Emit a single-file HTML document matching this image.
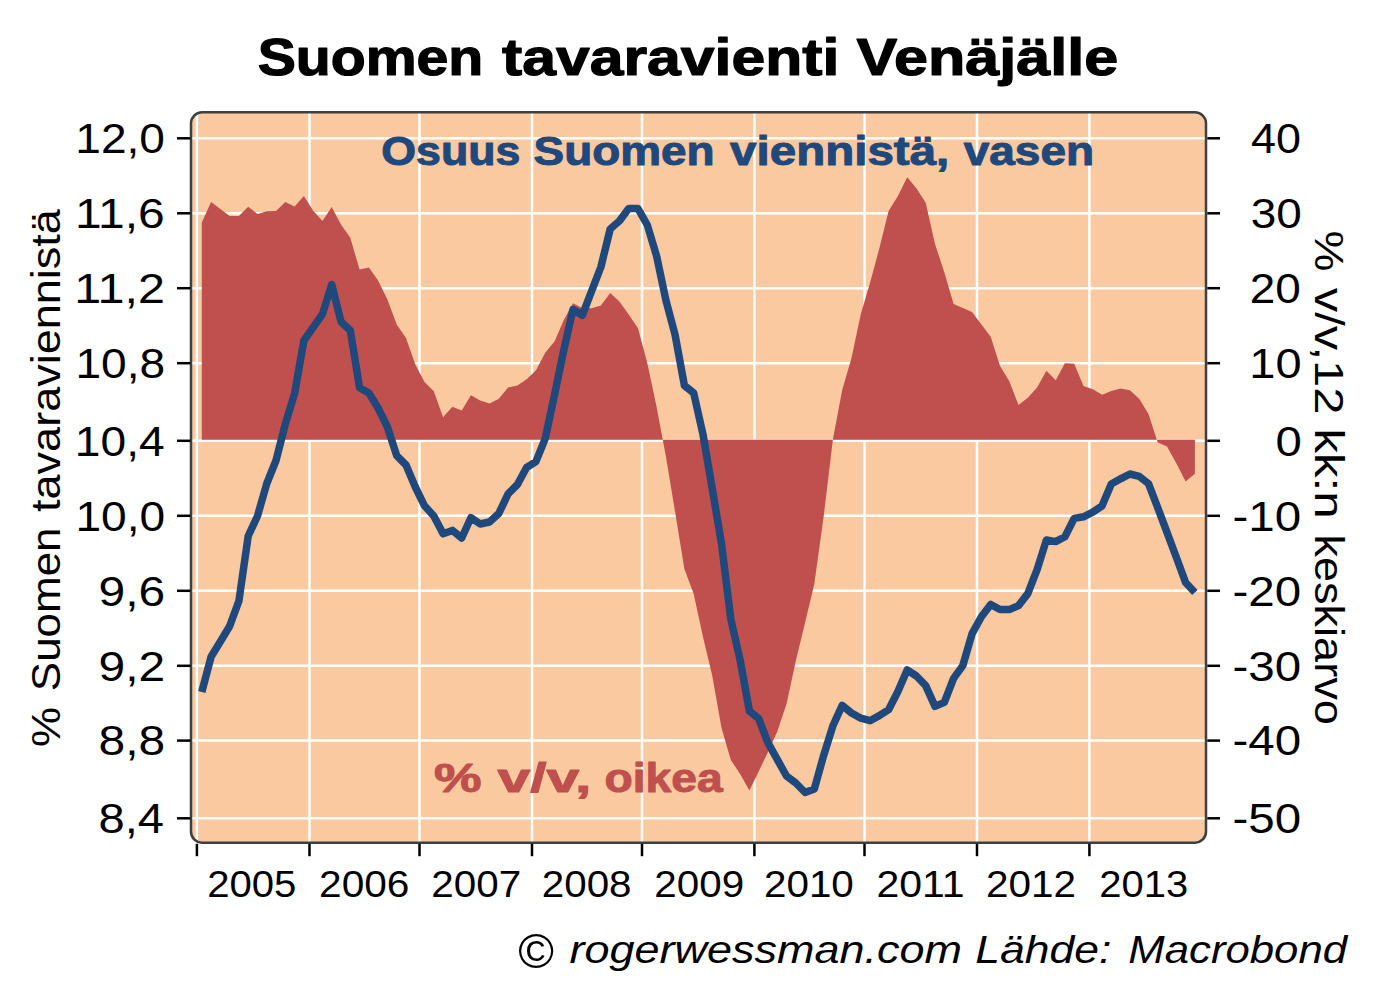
<!DOCTYPE html>
<html><head><meta charset="utf-8"><style>
html,body{margin:0;padding:0;background:#fff;}
svg{display:block;}
text{font-family:"Liberation Sans", sans-serif;}
</style></head><body>
<svg width="1375" height="1000" viewBox="0 0 1375 1000">
<rect x="0" y="0" width="1375" height="1000" fill="#ffffff"/>
<defs><clipPath id="ax"><rect x="191" y="112.3" width="1015" height="730.4" rx="11" ry="11"/></clipPath></defs>
<rect x="191" y="112.3" width="1015" height="730.4" rx="11" ry="11" fill="#FAC9A0"/>
<g clip-path="url(#ax)">
<line x1="185" x2="1215" y1="138.3" y2="138.3" stroke="#fff" stroke-width="2.5"/>
<line x1="185" x2="1215" y1="213.3" y2="213.3" stroke="#fff" stroke-width="2.5"/>
<line x1="185" x2="1215" y1="288.2" y2="288.2" stroke="#fff" stroke-width="2.5"/>
<line x1="185" x2="1215" y1="363.2" y2="363.2" stroke="#fff" stroke-width="2.5"/>
<line x1="185" x2="1215" y1="440.8" y2="440.8" stroke="#fff" stroke-width="2.5"/>
<line x1="185" x2="1215" y1="515.8" y2="515.8" stroke="#fff" stroke-width="2.5"/>
<line x1="185" x2="1215" y1="590.8" y2="590.8" stroke="#fff" stroke-width="2.5"/>
<line x1="185" x2="1215" y1="665.8" y2="665.8" stroke="#fff" stroke-width="2.5"/>
<line x1="185" x2="1215" y1="740.6" y2="740.6" stroke="#fff" stroke-width="2.5"/>
<line x1="185" x2="1215" y1="818.3" y2="818.3" stroke="#fff" stroke-width="2.5"/>
<line x1="196.9" x2="196.9" y1="105" y2="850" stroke="#fff" stroke-width="2.5"/>
<line x1="309.5" x2="309.5" y1="105" y2="850" stroke="#fff" stroke-width="2.5"/>
<line x1="419.5" x2="419.5" y1="105" y2="850" stroke="#fff" stroke-width="2.5"/>
<line x1="532" x2="532" y1="105" y2="850" stroke="#fff" stroke-width="2.5"/>
<line x1="642" x2="642" y1="105" y2="850" stroke="#fff" stroke-width="2.5"/>
<line x1="754.4" x2="754.4" y1="105" y2="850" stroke="#fff" stroke-width="2.5"/>
<line x1="864.5" x2="864.5" y1="105" y2="850" stroke="#fff" stroke-width="2.5"/>
<line x1="977" x2="977" y1="105" y2="850" stroke="#fff" stroke-width="2.5"/>
<line x1="1089.4" x2="1089.4" y1="105" y2="850" stroke="#fff" stroke-width="2.5"/>
<text x="381.32" y="165.20" font-size="40" font-weight="bold" stroke="#1F497D" stroke-width="1.0" stroke-linejoin="round" fill="#1F497D" textLength="138.98" lengthAdjust="spacingAndGlyphs">Osuus</text>
<text x="533.56" y="165.20" font-size="40" font-weight="bold" stroke="#1F497D" stroke-width="1.0" stroke-linejoin="round" fill="#1F497D" textLength="181.02" lengthAdjust="spacingAndGlyphs">Suomen</text>
<text x="730.12" y="165.20" font-size="40" font-weight="bold" stroke="#1F497D" stroke-width="1.0" stroke-linejoin="round" fill="#1F497D" textLength="219.19" lengthAdjust="spacingAndGlyphs">viennistä,</text>
<text x="963.71" y="165.20" font-size="40" font-weight="bold" stroke="#1F497D" stroke-width="1.0" stroke-linejoin="round" fill="#1F497D" textLength="130.39" lengthAdjust="spacingAndGlyphs">vasen</text>
<text x="433.93" y="791.90" font-size="40" font-weight="bold" stroke="#C0504D" stroke-width="1.0" stroke-linejoin="round" fill="#C0504D" textLength="47.52" lengthAdjust="spacingAndGlyphs">%</text>
<text x="497.49" y="791.90" font-size="40" font-weight="bold" stroke="#C0504D" stroke-width="1.0" stroke-linejoin="round" fill="#C0504D" textLength="93.88" lengthAdjust="spacingAndGlyphs">v/v,</text>
<text x="604.55" y="791.90" font-size="40" font-weight="bold" stroke="#C0504D" stroke-width="1.0" stroke-linejoin="round" fill="#C0504D" textLength="118.15" lengthAdjust="spacingAndGlyphs">oikea</text>
<path d="M201.8,439.7 L201.8,222.5 L211.1,202.0 L220.4,209.0 L229.6,216.0 L238.9,216.0 L248.2,206.8 L257.5,214.0 L266.8,211.2 L276.0,210.9 L285.3,202.0 L294.6,206.4 L303.9,196.0 L313.2,210.8 L322.5,221.0 L331.7,207.0 L341.0,224.6 L350.3,237.8 L359.6,269.6 L368.9,267.6 L378.1,280.4 L387.4,299.6 L396.7,324.4 L406.0,338.0 L415.3,364.4 L424.5,382.0 L433.8,391.3 L443.1,417.2 L452.4,406.8 L461.7,410.5 L470.9,395.3 L480.2,400.4 L489.5,403.5 L498.8,398.7 L508.1,387.5 L517.4,385.6 L526.6,379.2 L535.9,370.4 L545.2,352.8 L554.5,341.6 L563.8,320.0 L573.0,303.3 L582.3,308.0 L591.6,308.2 L600.9,305.6 L610.2,292.9 L619.4,301.5 L628.7,314.6 L638.0,328.3 L647.3,363.0 L656.6,407.0 L665.9,456.5 L675.1,512.0 L684.4,569.0 L693.7,594.0 L703.0,637.0 L712.3,676.0 L721.5,728.0 L730.8,760.0 L740.1,774.0 L749.4,790.6 L758.7,771.4 L767.9,752.2 L777.2,731.8 L786.5,704.1 L795.8,661.0 L805.1,622.5 L814.3,584.0 L823.6,517.0 L832.9,439.5 L842.2,390.0 L851.5,358.0 L860.8,314.0 L870.0,283.0 L879.3,248.5 L888.6,211.0 L897.9,195.9 L907.2,177.2 L916.4,188.2 L925.7,202.7 L935.0,244.0 L944.3,272.3 L953.6,304.0 L962.8,308.0 L972.1,312.1 L981.4,324.5 L990.7,336.8 L1000.0,366.0 L1009.2,381.0 L1018.5,405.0 L1027.8,397.8 L1037.1,387.5 L1046.4,370.8 L1055.7,380.2 L1064.9,363.3 L1074.2,363.7 L1083.5,386.0 L1092.8,389.2 L1102.1,394.7 L1111.3,391.0 L1120.6,388.5 L1129.9,390.3 L1139.2,398.8 L1148.5,414.0 L1157.7,442.4 L1167.0,446.6 L1176.3,463.3 L1185.6,481.6 L1194.9,473.8 L1194.9,439.7 Z" fill="#C0504D"/>
<path d="M201.8,692.0 L211.1,656.8 L220.4,641.5 L229.6,626.2 L238.9,601.0 L248.2,536.0 L257.5,516.0 L266.8,483.5 L276.0,460.5 L285.3,424.0 L294.6,393.5 L303.9,340.5 L313.2,327.3 L322.5,314.0 L331.7,284.5 L341.0,321.7 L350.3,330.5 L359.6,387.8 L368.9,393.0 L378.1,408.0 L387.4,427.0 L396.7,455.6 L406.0,465.0 L415.3,487.0 L424.5,505.8 L433.8,516.0 L443.1,533.8 L452.4,530.4 L461.7,538.0 L470.9,517.7 L480.2,524.0 L489.5,522.0 L498.8,513.4 L508.1,493.9 L517.4,484.5 L526.6,467.5 L535.9,461.6 L545.2,438.6 L554.5,395.0 L563.8,350.0 L573.0,309.5 L582.3,315.3 L591.6,291.1 L600.9,267.0 L610.2,229.0 L619.4,221.0 L628.7,208.6 L638.0,208.6 L647.3,225.0 L656.6,256.0 L665.9,300.2 L675.1,334.9 L684.4,385.5 L693.7,393.0 L703.0,434.5 L712.3,489.0 L721.5,543.6 L730.8,619.0 L740.1,660.0 L749.4,711.0 L758.7,718.6 L767.9,742.6 L777.2,759.4 L786.5,776.0 L795.8,783.0 L805.1,792.5 L814.3,789.0 L823.6,755.6 L832.9,725.8 L842.2,705.4 L851.5,713.0 L860.8,718.2 L870.0,720.7 L879.3,715.6 L888.6,709.7 L897.9,691.5 L907.2,670.0 L916.4,676.0 L925.7,685.6 L935.0,706.4 L944.3,702.4 L953.6,678.4 L962.8,665.6 L972.1,633.6 L981.4,616.8 L990.7,604.4 L1000.0,609.6 L1009.2,609.6 L1018.5,605.6 L1027.8,593.6 L1037.1,569.6 L1046.4,540.0 L1055.7,541.6 L1064.9,536.8 L1074.2,518.4 L1083.5,516.8 L1092.8,512.2 L1102.1,505.8 L1111.3,484.0 L1120.6,478.8 L1129.9,474.0 L1139.2,476.4 L1148.5,483.6 L1157.7,507.6 L1167.0,532.4 L1176.3,557.2 L1185.6,582.5 L1194.9,592.5" fill="none" stroke="#1F497D" stroke-width="7.5" stroke-linejoin="round" stroke-linecap="butt"/>
</g>
<rect x="191" y="112.3" width="1015" height="730.4" rx="11" ry="11" fill="none" stroke="#3F3F3F" stroke-width="2.5"/>
<line x1="177" x2="190.3" y1="138.3" y2="138.3" stroke="#000" stroke-width="2.5"/>
<line x1="1207.3" x2="1220" y1="138.3" y2="138.3" stroke="#000" stroke-width="2.5"/>
<line x1="177" x2="190.3" y1="213.3" y2="213.3" stroke="#000" stroke-width="2.5"/>
<line x1="1207.3" x2="1220" y1="213.3" y2="213.3" stroke="#000" stroke-width="2.5"/>
<line x1="177" x2="190.3" y1="288.2" y2="288.2" stroke="#000" stroke-width="2.5"/>
<line x1="1207.3" x2="1220" y1="288.2" y2="288.2" stroke="#000" stroke-width="2.5"/>
<line x1="177" x2="190.3" y1="363.2" y2="363.2" stroke="#000" stroke-width="2.5"/>
<line x1="1207.3" x2="1220" y1="363.2" y2="363.2" stroke="#000" stroke-width="2.5"/>
<line x1="177" x2="190.3" y1="440.8" y2="440.8" stroke="#000" stroke-width="2.5"/>
<line x1="1207.3" x2="1220" y1="440.8" y2="440.8" stroke="#000" stroke-width="2.5"/>
<line x1="177" x2="190.3" y1="515.8" y2="515.8" stroke="#000" stroke-width="2.5"/>
<line x1="1207.3" x2="1220" y1="515.8" y2="515.8" stroke="#000" stroke-width="2.5"/>
<line x1="177" x2="190.3" y1="590.8" y2="590.8" stroke="#000" stroke-width="2.5"/>
<line x1="1207.3" x2="1220" y1="590.8" y2="590.8" stroke="#000" stroke-width="2.5"/>
<line x1="177" x2="190.3" y1="665.8" y2="665.8" stroke="#000" stroke-width="2.5"/>
<line x1="1207.3" x2="1220" y1="665.8" y2="665.8" stroke="#000" stroke-width="2.5"/>
<line x1="177" x2="190.3" y1="740.6" y2="740.6" stroke="#000" stroke-width="2.5"/>
<line x1="1207.3" x2="1220" y1="740.6" y2="740.6" stroke="#000" stroke-width="2.5"/>
<line x1="177" x2="190.3" y1="818.3" y2="818.3" stroke="#000" stroke-width="2.5"/>
<line x1="1207.3" x2="1220" y1="818.3" y2="818.3" stroke="#000" stroke-width="2.5"/>
<line x1="196.9" x2="196.9" y1="843.8" y2="856.2" stroke="#000" stroke-width="2.5"/>
<line x1="309.5" x2="309.5" y1="843.8" y2="856.2" stroke="#000" stroke-width="2.5"/>
<line x1="419.5" x2="419.5" y1="843.8" y2="856.2" stroke="#000" stroke-width="2.5"/>
<line x1="532" x2="532" y1="843.8" y2="856.2" stroke="#000" stroke-width="2.5"/>
<line x1="642" x2="642" y1="843.8" y2="856.2" stroke="#000" stroke-width="2.5"/>
<line x1="754.4" x2="754.4" y1="843.8" y2="856.2" stroke="#000" stroke-width="2.5"/>
<line x1="864.5" x2="864.5" y1="843.8" y2="856.2" stroke="#000" stroke-width="2.5"/>
<line x1="977" x2="977" y1="843.8" y2="856.2" stroke="#000" stroke-width="2.5"/>
<line x1="1089.4" x2="1089.4" y1="843.8" y2="856.2" stroke="#000" stroke-width="2.5"/>
<text x="75.24" y="153.00" font-size="42" fill="#000" textLength="89.74" lengthAdjust="spacingAndGlyphs">12,0</text>
<text x="74.96" y="228.00" font-size="42" fill="#000" textLength="89.81" lengthAdjust="spacingAndGlyphs">11,6</text>
<text x="74.22" y="302.90" font-size="42" fill="#000" textLength="90.88" lengthAdjust="spacingAndGlyphs">11,2</text>
<text x="75.42" y="377.90" font-size="42" fill="#000" textLength="89.74" lengthAdjust="spacingAndGlyphs">10,8</text>
<text x="74.87" y="455.50" font-size="42" fill="#000" textLength="89.74" lengthAdjust="spacingAndGlyphs">10,4</text>
<text x="75.43" y="530.50" font-size="42" fill="#000" textLength="89.73" lengthAdjust="spacingAndGlyphs">10,0</text>
<text x="98.64" y="605.50" font-size="42" fill="#000" textLength="66.58" lengthAdjust="spacingAndGlyphs">9,6</text>
<text x="98.59" y="680.50" font-size="42" fill="#000" textLength="66.60" lengthAdjust="spacingAndGlyphs">9,2</text>
<text x="98.63" y="755.30" font-size="42" fill="#000" textLength="66.60" lengthAdjust="spacingAndGlyphs">8,8</text>
<text x="98.64" y="833.00" font-size="42" fill="#000" textLength="65.42" lengthAdjust="spacingAndGlyphs">8,4</text>
<text x="1250.91" y="153.00" font-size="42" fill="#000" textLength="49.95" lengthAdjust="spacingAndGlyphs">40</text>
<text x="1250.79" y="228.00" font-size="42" fill="#000" textLength="51.06" lengthAdjust="spacingAndGlyphs">30</text>
<text x="1249.69" y="302.90" font-size="42" fill="#000" textLength="51.09" lengthAdjust="spacingAndGlyphs">20</text>
<text x="1249.39" y="377.90" font-size="42" fill="#000" textLength="52.28" lengthAdjust="spacingAndGlyphs">10</text>
<text x="1275.61" y="455.50" font-size="42" fill="#000" textLength="26.33" lengthAdjust="spacingAndGlyphs">0</text>
<text x="1232.54" y="530.50" font-size="42" fill="#000" textLength="68.71" lengthAdjust="spacingAndGlyphs">-10</text>
<text x="1232.54" y="605.50" font-size="42" fill="#000" textLength="68.71" lengthAdjust="spacingAndGlyphs">-20</text>
<text x="1232.54" y="680.50" font-size="42" fill="#000" textLength="68.71" lengthAdjust="spacingAndGlyphs">-30</text>
<text x="1232.54" y="755.30" font-size="42" fill="#000" textLength="68.71" lengthAdjust="spacingAndGlyphs">-40</text>
<text x="1232.54" y="833.00" font-size="42" fill="#000" textLength="68.71" lengthAdjust="spacingAndGlyphs">-50</text>
<text x="207.16" y="897.00" font-size="37.5" fill="#000" textLength="89.20" lengthAdjust="spacingAndGlyphs">2005</text>
<text x="319.10" y="897.00" font-size="37.5" fill="#000" textLength="90.34" lengthAdjust="spacingAndGlyphs">2006</text>
<text x="431.34" y="897.00" font-size="37.5" fill="#000" textLength="89.83" lengthAdjust="spacingAndGlyphs">2007</text>
<text x="541.75" y="897.00" font-size="37.5" fill="#000" textLength="89.83" lengthAdjust="spacingAndGlyphs">2008</text>
<text x="654.38" y="897.00" font-size="37.5" fill="#000" textLength="89.81" lengthAdjust="spacingAndGlyphs">2009</text>
<text x="763.95" y="897.00" font-size="37.5" fill="#000" textLength="89.91" lengthAdjust="spacingAndGlyphs">2010</text>
<text x="876.48" y="897.00" font-size="37.5" fill="#000" textLength="88.19" lengthAdjust="spacingAndGlyphs">2011</text>
<text x="985.92" y="897.00" font-size="37.5" fill="#000" textLength="90.03" lengthAdjust="spacingAndGlyphs">2012</text>
<text x="1099.39" y="897.00" font-size="37.5" fill="#000" textLength="88.87" lengthAdjust="spacingAndGlyphs">2013</text>
<text x="257.65" y="75.30" font-size="52.5" font-weight="bold" stroke="#000" stroke-width="1.2" stroke-linejoin="round" fill="#000" textLength="225.68" lengthAdjust="spacingAndGlyphs">Suomen</text>
<text x="502.00" y="75.30" font-size="52.5" font-weight="bold" stroke="#000" stroke-width="1.2" stroke-linejoin="round" fill="#000" textLength="337.27" lengthAdjust="spacingAndGlyphs">tavaravienti</text>
<text x="856.56" y="75.30" font-size="52.5" font-weight="bold" stroke="#000" stroke-width="1.2" stroke-linejoin="round" fill="#000" textLength="261.64" lengthAdjust="spacingAndGlyphs">Venäjälle</text>
<text x="517.51" y="967.50" font-size="48.5" font-style="italic" fill="#000" textLength="35.75" lengthAdjust="spacingAndGlyphs">©</text>
<text x="569.58" y="963.40" font-size="39.5" font-style="italic" fill="#000" textLength="392.43" lengthAdjust="spacingAndGlyphs">rogerwessman.com</text>
<text x="975.31" y="963.40" font-size="39.5" font-style="italic" fill="#000" textLength="135.99" lengthAdjust="spacingAndGlyphs">Lähde:</text>
<text x="1128.34" y="963.40" font-size="39.5" font-style="italic" fill="#000" textLength="218.70" lengthAdjust="spacingAndGlyphs">Macrobond</text>
<text transform="translate(60.30,747.12) rotate(-90)" font-size="41" fill="#000" textLength="40.13" lengthAdjust="spacingAndGlyphs">%</text>
<text transform="translate(60.30,691.14) rotate(-90)" font-size="41" fill="#000" textLength="163.66" lengthAdjust="spacingAndGlyphs">Suomen</text>
<text transform="translate(60.30,511.97) rotate(-90)" font-size="41" fill="#000" textLength="302.86" lengthAdjust="spacingAndGlyphs">tavaraviennistä</text>
<text transform="translate(1314.80,230.43) rotate(90)" font-size="41" fill="#000" textLength="40.99" lengthAdjust="spacingAndGlyphs">%</text>
<text transform="translate(1314.80,287.80) rotate(90)" font-size="41" fill="#000" textLength="126.60" lengthAdjust="spacingAndGlyphs">v/v,12</text>
<text transform="translate(1314.80,428.40) rotate(90)" font-size="41" fill="#000" textLength="90.24" lengthAdjust="spacingAndGlyphs">kk:n</text>
<text transform="translate(1314.80,534.38) rotate(90)" font-size="41" fill="#000" textLength="190.39" lengthAdjust="spacingAndGlyphs">keskiarvo</text>
</svg>
</body></html>
